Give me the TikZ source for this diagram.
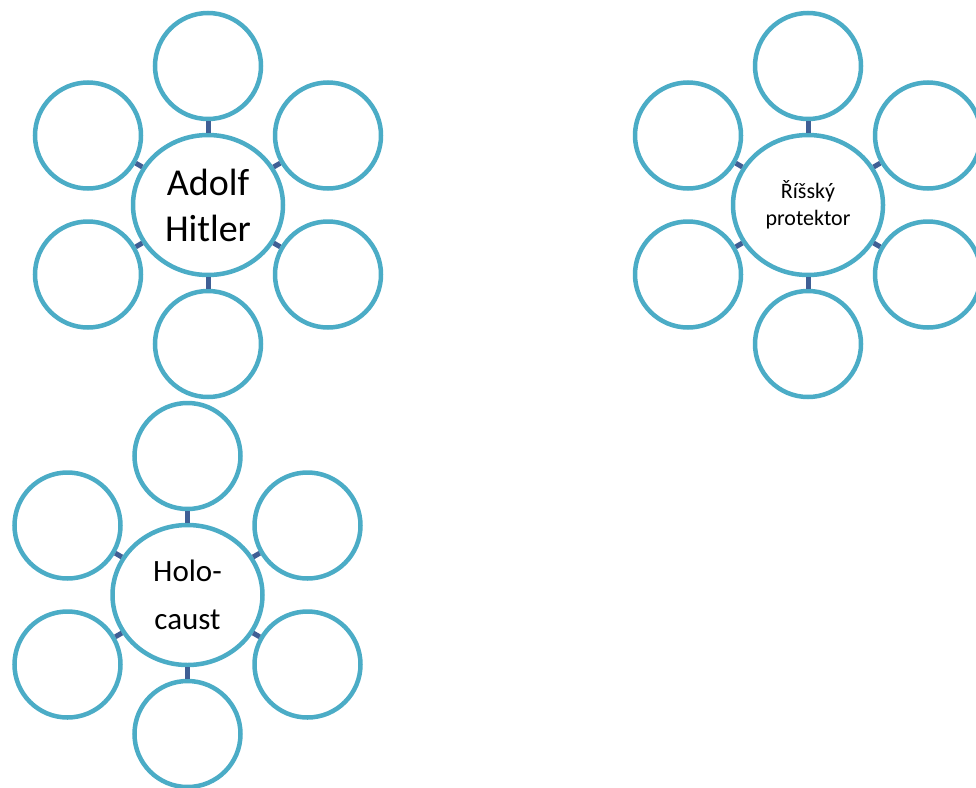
\documentclass[tikz,border=0pt]{standalone}
\usepackage{fontspec}
\setmainfont{Carlito}
\usetikzlibrary{shapes.geometric}

\definecolor{ringblue}{HTML}{4BACC6}
\definecolor{linkblue}{HTML}{3F5F95}

\tikzset{
    hub/.style={ellipse, draw=ringblue, line width=4.5pt, fill=white, inner sep=0pt,
        minimum width=150pt, minimum height=140pt, align=center},
    leaf/.style={circle, draw=ringblue, line width=4.5pt, fill=white, inner sep=0pt,
        minimum size=106pt},
    link/.style={draw=linkblue, line width=5pt}
}

\begin{document}
\begin{tikzpicture}[x=1pt, y=-1pt]
    \useasboundingbox (0,0) rectangle (976,787);
    % Adolf Hitler
    \node[hub, font=\fontsize{38}{46}\selectfont] (hitler) at (208,205) {Adolf\\Hitler};
    \node[leaf] (hitler1) at (208,66) {};
    \node[leaf] (hitler2) at (328,135.5) {};
    \node[leaf] (hitler3) at (328,274.5) {};
    \node[leaf] (hitler4) at (208,344) {};
    \node[leaf] (hitler5) at (88,274.5) {};
    \node[leaf] (hitler6) at (88,135.5) {};
    \draw[link] (hitler) -- (hitler1);
    \draw[link] (hitler) -- (hitler2);
    \draw[link] (hitler) -- (hitler3);
    \draw[link] (hitler) -- (hitler4);
    \draw[link] (hitler) -- (hitler5);
    \draw[link] (hitler) -- (hitler6);
    % Risssky protektor
    \node[hub, font=\fontsize{22}{27}\selectfont] (protektor) at (808,205) {Říšský\\protektor};
    \node[leaf] (protektor1) at (808,66) {};
    \node[leaf] (protektor2) at (928,135.5) {};
    \node[leaf] (protektor3) at (928,274.5) {};
    \node[leaf] (protektor4) at (808,344) {};
    \node[leaf] (protektor5) at (688,274.5) {};
    \node[leaf] (protektor6) at (688,135.5) {};
    \draw[link] (protektor) -- (protektor1);
    \draw[link] (protektor) -- (protektor2);
    \draw[link] (protektor) -- (protektor3);
    \draw[link] (protektor) -- (protektor4);
    \draw[link] (protektor) -- (protektor5);
    \draw[link] (protektor) -- (protektor6);
    % Holocaust
    \node[hub, font=\fontsize{31}{48}\selectfont] (holocaust) at (187.5,595) {Holo-\\caust};
    \node[leaf] (holocaust1) at (187.5,456) {};
    \node[leaf] (holocaust2) at (307.5,525.5) {};
    \node[leaf] (holocaust3) at (307.5,664.5) {};
    \node[leaf] (holocaust4) at (187.5,734) {};
    \node[leaf] (holocaust5) at (67.5,664.5) {};
    \node[leaf] (holocaust6) at (67.5,525.5) {};
    \draw[link] (holocaust) -- (holocaust1);
    \draw[link] (holocaust) -- (holocaust2);
    \draw[link] (holocaust) -- (holocaust3);
    \draw[link] (holocaust) -- (holocaust4);
    \draw[link] (holocaust) -- (holocaust5);
    \draw[link] (holocaust) -- (holocaust6);
\end{tikzpicture}
\end{document}
